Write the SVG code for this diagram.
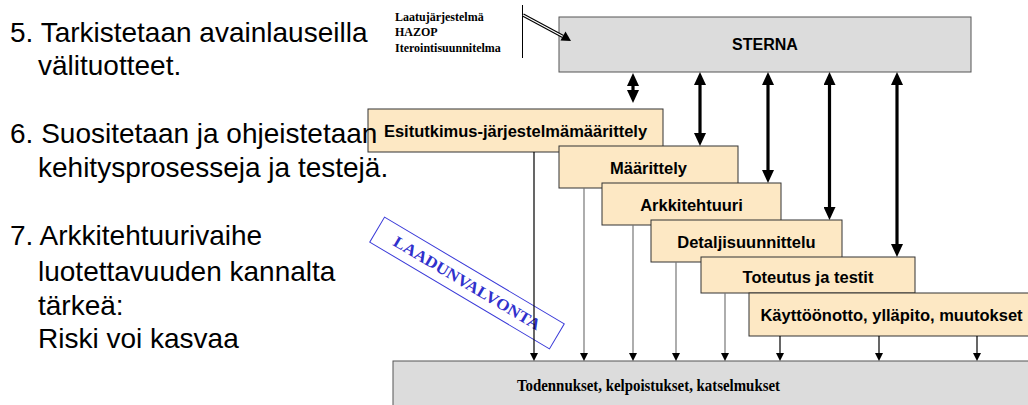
<svg xmlns="http://www.w3.org/2000/svg" width="1028" height="405" viewBox="0 0 1028 405">
  <style>
    .bullet { font-family: "Liberation Sans", Arial, sans-serif; font-size: 28px; fill: #000; }
    .phase rect { fill: #fde8c4; stroke: #333; stroke-width: 1; }
    .phase text { font-family: "Liberation Sans", Arial, sans-serif; font-size: 16.5px; font-weight: bold; fill: #000; text-anchor: middle; }
    .gray rect { fill: #dcdcdc; stroke: #555; stroke-width: 1; }
    .serif { font-family: "Liberation Serif", "Times New Roman", serif; font-weight: bold; fill: #000; }
    .thick { stroke: #000; stroke-width: 3.2; fill: none; marker-start: url(#bigHead); marker-end: url(#bigHead); }
    .thin { stroke-width: 1.2; fill: none; marker-end: url(#smallHead); }
    .dark { stroke: #000; }
    .mid { stroke: #777; }
  </style>
  <defs>
    <marker id="bigHead" viewBox="0 0 13 12" refX="0" refY="6" markerWidth="13" markerHeight="12" markerUnits="userSpaceOnUse" orient="auto-start-reverse">
      <path d="M0,0 L13,6 L0,12 Z" fill="#000"/>
    </marker>
    <marker id="smallHead" viewBox="0 0 8 8" refX="0" refY="4" markerWidth="8" markerHeight="8" markerUnits="userSpaceOnUse" orient="auto">
      <path d="M0,0 L8,4 L0,8 Z" fill="#000"/>
    </marker>
  </defs>

  <!-- STERNA -->
  <g id="sterna" class="gray">
    <rect x="559" y="17" width="412" height="55"/>
    <text x="765" y="50" font-family="Liberation Sans, Arial, sans-serif" font-size="16" font-weight="bold" text-anchor="middle">STERNA</text>
  </g>

  <!-- document list feeding STERNA -->
  <g id="inputs">
    <text class="serif" font-size="12" x="395" y="21">Laatujärjestelmä</text>
    <text class="serif" font-size="12" x="395" y="36">HAZOP</text>
    <text class="serif" font-size="12" x="395" y="52">Iterointisuunnitelma</text>
    <line x1="522.5" y1="5" x2="522.5" y2="58" stroke="#000" stroke-width="1"/>
    <line x1="523" y1="15" x2="563" y2="36.5" stroke="#000" stroke-width="3.4"/>
    <line x1="523" y1="15" x2="563" y2="36.5" stroke="#fff" stroke-width="1.2"/>
    <path d="M571,41 L560.5,40.5 L565.5,31.5 Z" fill="#000"/>
  </g>

  <!-- waterfall phases -->
  <g id="phase1" class="phase">
    <rect x="368" y="109" width="295" height="43"/>
    <text x="515.5" y="136.5">Esitutkimus-järjestelmämäärittely</text>
  </g>
  <g id="phase2" class="phase">
    <rect x="559" y="146" width="179" height="42"/>
    <text x="648.5" y="173.5">Määrittely</text>
  </g>
  <g id="phase3" class="phase">
    <rect x="602" y="183" width="179" height="42"/>
    <text x="691.5" y="210.5">Arkkitehtuuri</text>
  </g>
  <g id="phase4" class="phase">
    <rect x="651" y="220" width="191" height="42"/>
    <text x="746.5" y="247.5">Detaljisuunnittelu</text>
  </g>
  <g id="phase5" class="phase">
    <rect x="701" y="257" width="214" height="36"/>
    <text x="808" y="283">Toteutus ja testit</text>
  </g>
  <g id="phase6" class="phase">
    <rect x="749" y="293" width="285" height="43"/>
    <text x="891.5" y="320.5">Käyttöönotto, ylläpito, muutokset</text>
  </g>

  <!-- verification bar -->
  <g id="verification" class="gray">
    <rect x="393" y="361" width="645" height="50"/>
    <text class="serif" font-size="17" x="648.5" y="391" text-anchor="middle" textLength="263" lengthAdjust="spacingAndGlyphs">Todennukset, kelpoistukset, katselmukset</text>
  </g>

  <!-- quality control stamp -->
  <g id="quality" transform="translate(467,283) rotate(30.7)">
    <rect x="-104.5" y="-14.5" width="209" height="29" fill="none" stroke="#3a3ad8" stroke-width="1"/>
    <text x="0" y="5.5" font-family="Liberation Serif, Times New Roman, serif" font-weight="bold" font-size="16" fill="#3030cc" text-anchor="middle" textLength="168" lengthAdjust="spacingAndGlyphs">LAADUNVALVONTA</text>
  </g>

  <!-- bullet points on the left (drawn over the first phase box) -->
  <g id="notes">
    <text class="bullet" x="10" y="42">5. Tarkistetaan avainlauseilla</text>
    <text class="bullet" x="38" y="75">välituotteet.</text>
    <text class="bullet" x="10" y="143">6. Suositetaan ja ohjeistetaan</text>
    <text class="bullet" x="38" y="177">kehitysprosesseja ja testejä.</text>
    <text class="bullet" x="10" y="245">7. Arkkitehtuurivaihe</text>
    <text class="bullet" x="38" y="281">luotettavuuden kannalta</text>
    <text class="bullet" x="38" y="315">tärkeä:</text>
    <text class="bullet" x="38" y="348">Riski voi kasvaa</text>
  </g>

  <!-- connectors -->
  <g id="connectors">
    <line class="thick" x1="633" y1="86" x2="633" y2="90"/>
    <line class="thick" x1="700" y1="85" x2="700" y2="133"/>
    <line class="thick" x1="768" y1="85" x2="768" y2="170"/>
    <line class="thick" x1="829.5" y1="85" x2="829.5" y2="207"/>
    <line class="thick" x1="897" y1="85" x2="897" y2="244"/>

    <line class="thin dark" x1="534" y1="152" x2="534" y2="353"/>
    <line class="thin mid" x1="584" y1="188" x2="584" y2="353"/>
    <line class="thin mid" x1="633" y1="225" x2="633" y2="353"/>
    <line class="thin mid" x1="676" y1="262" x2="676" y2="353"/>
    <line class="thin mid" x1="725" y1="293" x2="725" y2="353"/>
    <line class="thin dark" x1="780" y1="336" x2="780" y2="353"/>
    <line class="thin dark" x1="879" y1="336" x2="879" y2="353"/>
    <line class="thin dark" x1="977" y1="336" x2="977" y2="353"/>
  </g>
</svg>
